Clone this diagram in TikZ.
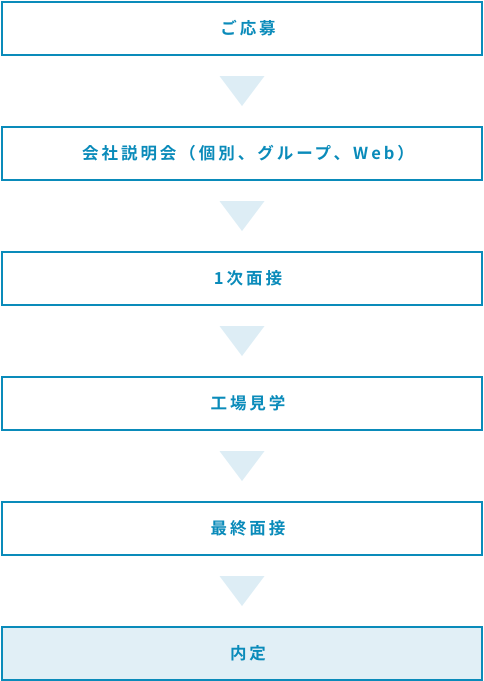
\documentclass[tikz,border=0pt]{standalone}
\usepackage{fontspec}
\usetikzlibrary{calc}
\newfontfamily\jpfont[LetterSpace=18,BoldFont={Noto Sans CJK JP Bold}]{Noto Sans CJK JP}
\newcommand\stepfont{\fontsize{16.5pt}{19pt}\jpfont\bfseries\selectfont}
\definecolor{stepblue}{HTML}{0A8BBA}
\definecolor{lightfill}{HTML}{E1EFF6}
\definecolor{triblue}{HTML}{DDEDF5}
\tikzset{
  stepbox/.style={draw=stepblue, line width=2pt, fill=white, minimum width=480pt, minimum height=53pt, inner sep=0pt,
    text=stepblue, font=\stepfont, anchor=north west, execute at begin node={\hspace*{12pt}}},
  finalbox/.style={stepbox, fill=lightfill},
  downtri/.style={fill=triblue, draw=none}
}
\begin{document}
\begin{tikzpicture}[x=1pt,y=-1pt]
\useasboundingbox (0,0) rectangle (483,681);
\node[stepbox] (s1) at (1,1) {ご応募};
\node[stepbox] (s2) at (1,126) {会社説明会（個別、グループ、Web）};
\node[stepbox] (s3) at (1,251) {1次面接};
\node[stepbox] (s4) at (1,376) {工場見学};
\node[stepbox] (s5) at (1,501) {最終面接};
\node[finalbox] (s6) at (1,626) {内定};
\foreach \a/\b [count=\i] in {s1/s2,s2/s3,s3/s4,s4/s5,s5/s6}{
  \coordinate (m\i) at ($(\a.south)!0.5!(\b.north)$);
  \fill[downtri] ([xshift=-22.5pt,yshift=15pt]m\i) -- ([xshift=22.5pt,yshift=15pt]m\i) -- ([yshift=-15pt]m\i) -- cycle;
}
\end{tikzpicture}
\end{document}
